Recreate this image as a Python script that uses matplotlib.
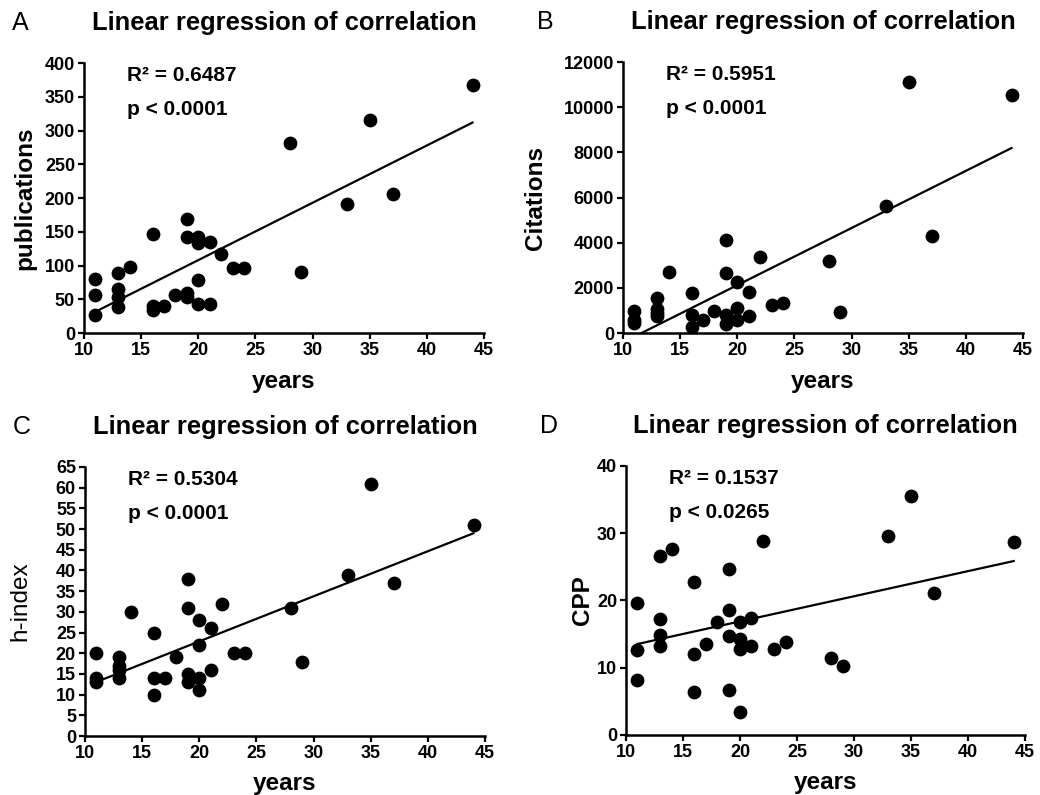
import numpy as np
import matplotlib
matplotlib.use('Agg')
import matplotlib.pyplot as plt

plt.rcParams['font.family'] = ['Liberation Sans', 'DejaVu Sans']

# years in academia (same for every panel)
years = [11, 11, 11, 13, 13, 13, 13, 14, 16, 16, 16, 17, 18, 19, 19, 19, 19,
         20, 20, 20, 20, 21, 21, 22, 23, 24, 28, 29, 33, 35, 37, 44]

publications = [80.5, 56, 27, 89, 65, 53, 38.5, 98, 147, 39.5, 34, 40.5, 56, 169, 143, 60, 53,
                143, 133, 78.5, 43.5, 135, 42.5, 117.5, 96.5, 96.5, 282, 90.5, 192, 316, 206.5, 367]

citations = [1000, 600, 450, 1550, 1050, 900, 750, 2720, 1780, 780, 265, 590, 970, 4130, 2660, 810, 410,
             2250, 1120, 560, 1810, 750, 3350, 1250, 1340, 3200, 955, 5630, 11120, 4320, 10550]
citations_years = [11, 11, 11, 13, 13, 13, 13, 14, 16, 16, 16, 17, 18, 19, 19, 19, 19,
                   20, 20, 20, 21, 21, 22, 23, 24, 28, 29, 33, 35, 37, 44]

h_index = [20, 14, 13, 19, 17, 16, 14, 30, 25, 14, 10, 14, 19, 38, 31, 15, 13,
           28, 22, 14, 11, 26, 16, 32, 20, 20, 31, 18, 39, 61, 37, 51]

cpp = [19.55, 12.7, 8.15, 26.65, 17.3, 14.9, 13.2, 27.7, 22.7, 12.05, 6.45, 13.6, 16.75, 24.7, 18.55, 14.75, 6.7,
       16.75, 14.25, 12.8, 3.45, 17.35, 13.25, 28.8, 12.8, 13.75, 11.4, 10.2, 29.55, 35.6, 21.05, 28.7]

panels = [
    # letter, x, y, ylabel, label bold, ylim, ytick step, r2, p, axes rect, ylabel x
    ('A', years, publications, 'publications', True, 400, 50, '0.6487', '0.0001',
     [0.0808, 0.581, 0.3846, 0.3396], -0.12),
    ('B', citations_years, citations, 'Citations', True, 12000, 2000, '0.5951', '0.0001',
     [0.599, 0.581, 0.3846, 0.3408], -0.19),
    ('C', years, h_index, 'h-index', False, 65, 5, '0.5304', '0.0001',
     [0.0817, 0.0742, 0.3846, 0.3384], -0.135),
    ('D', years, cpp, 'CPP', True, 40, 10, '0.1537', '0.0265',
     [0.602, 0.0755, 0.3837, 0.3384], -0.08),
]


def draw_panel(fig, letter, x, y, ylabel, bold_label, ymax, ystep, r2, p, rect, ylab_x):
    """Scatter plot with a linear regression line."""
    ax = fig.add_axes(rect)
    x = np.array(x, dtype=float)
    y = np.array(y, dtype=float)
    ax.scatter(x, y, s=80, color='black', zorder=3, clip_on=False)
    slope, intercept = np.polyfit(x, y, 1)
    xs = np.array([x.min(), x.max()])
    ax.plot(xs, slope * xs + intercept, color='black', lw=1.6)

    ax.set_xlim(10, 45)
    ax.set_ylim(0, ymax)
    ax.set_xticks(range(10, 46, 5))
    ax.set_yticks(np.arange(0, ymax + ystep / 2, ystep))
    for side in ['top', 'right']:
        ax.spines[side].set_visible(False)
    for side in ['left', 'bottom']:
        ax.spines[side].set_linewidth(1.8)
    ax.tick_params(direction='out', length=4.5, width=1.6, pad=2, labelsize=13)
    for lab in ax.get_xticklabels() + ax.get_yticklabels():
        lab.set_fontweight('bold')

    ax.set_xlabel('years', fontsize=17.5, fontweight='bold')
    ax.xaxis.set_label_coords(0.5, -0.135)
    ax.set_ylabel(ylabel, fontsize=17.5, fontweight='bold' if bold_label else 'normal')
    ax.yaxis.set_label_coords(ylab_x, 0.5)

    ax.text(0.108, 0.955, 'R² = ' + r2, transform=ax.transAxes, fontsize=15,
            fontweight='bold', va='center')
    ax.text(0.108, 0.828, 'p < ' + p, transform=ax.transAxes, fontsize=15,
            fontweight='bold', va='center')

    ax.text(0.5, 1.148, 'Linear regression of correlation', transform=ax.transAxes,
            fontsize=18.4, fontweight='bold', ha='center', va='center')
    ax.text(-0.18 if letter in 'AC' else -0.215, 1.15, letter, transform=ax.transAxes,
            fontsize=18, ha='left', va='center')
    return ax


fig = plt.figure(figsize=(10.4, 7.95), dpi=100)
for panel in panels:
    draw_panel(fig, *panel)
fig.savefig('out.png', dpi=100)
